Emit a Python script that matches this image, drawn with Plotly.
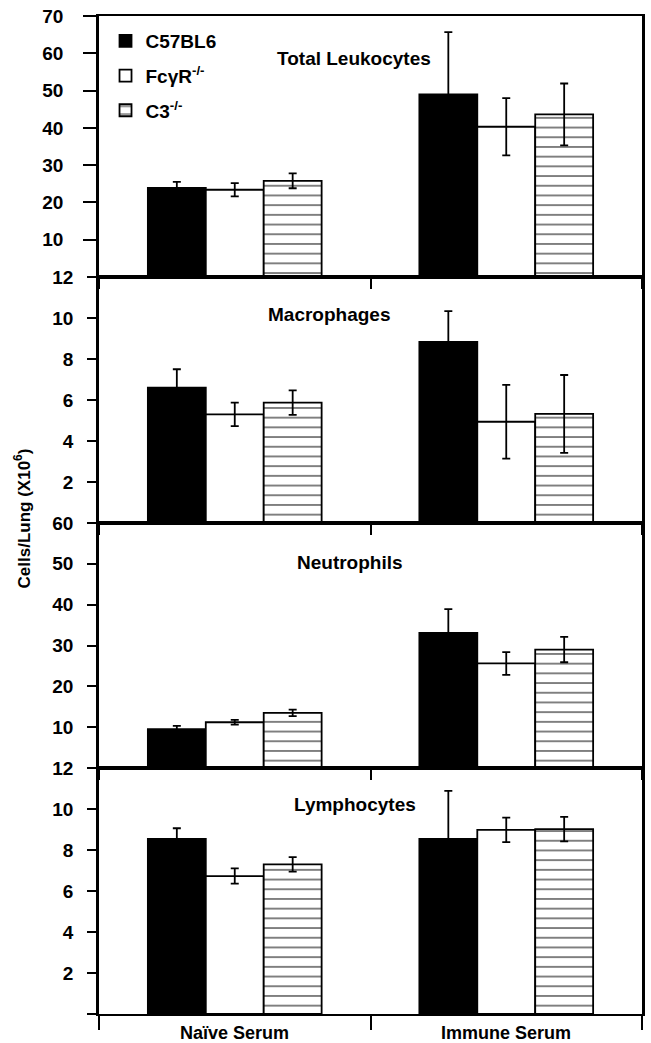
import plotly.graph_objects as go
from plotly.subplots import make_subplots

categories = ["Naïve Serum", "Immune Serum"]
strains = ["C57BL6", "FcγR<sup>-/-</sup>", "C3<sup>-/-</sup>"]
panel_titles = ["Total Leukocytes", "Macrophages", "Neutrophils", "Lymphocytes"]

# Total leukocytes
leuk_c57 = [23.9, 49.0]
leuk_c57_err = [1.6, 16.7]
leuk_fc = [23.4, 40.3]
leuk_fc_err = [1.8, 7.7]
leuk_c3 = [25.8, 43.6]
leuk_c3_err = [2.0, 8.3]

# Macrophages
mac_c57 = [6.6, 8.84]
mac_c57_err = [0.9, 1.5]
mac_fc = [5.3, 4.94]
mac_fc_err = [0.57, 1.8]
mac_c3 = [5.87, 5.32]
mac_c3_err = [0.6, 1.9]

# Neutrophils
neu_c57 = [9.5, 33.1]
neu_c57_err = [0.8, 5.8]
neu_fc = [11.2, 25.6]
neu_fc_err = [0.6, 2.8]
neu_c3 = [13.5, 29.0]
neu_c3_err = [0.8, 3.1]

# Lymphocytes
lym_c57 = [8.54, 8.54]
lym_c57_err = [0.52, 2.34]
lym_fc = [6.73, 8.98]
lym_fc_err = [0.37, 0.6]
lym_c3 = [7.3, 9.02]
lym_c3_err = [0.35, 0.6]

y_max = [70, 12, 60, 12]
y_step = [10, 2, 10, 2]

panel_data = [
    [(leuk_c57, leuk_c57_err), (leuk_fc, leuk_fc_err), (leuk_c3, leuk_c3_err)],
    [(mac_c57, mac_c57_err), (mac_fc, mac_fc_err), (mac_c3, mac_c3_err)],
    [(neu_c57, neu_c57_err), (neu_fc, neu_fc_err), (neu_c3, neu_c3_err)],
    [(lym_c57, lym_c57_err), (lym_fc, lym_fc_err), (lym_c3, lym_c3_err)],
]

FONT = "Liberation Sans, Arial, sans-serif"

fig = make_subplots(rows=4, cols=1, shared_xaxes=True, vertical_spacing=0,
                    row_heights=[261, 246, 245, 246])

styles = [
    dict(color="black", pattern=dict(shape="")),
    dict(color="white", pattern=dict(shape="")),
    dict(color="white", pattern=dict(shape="-", size=9.7, solidity=0.2,
                                     fgcolor="black", bgcolor="white", fillmode="overlay")),
]

for r, pdata in enumerate(panel_data, start=1):
    for s, (vals, errs) in enumerate(pdata):
        st = styles[s]
        fig.add_trace(go.Bar(
            x=categories, y=vals, name=strains[s],
            legendgroup=f"g{s}", showlegend=(r == 1),
            marker=dict(color=st["color"], pattern=st["pattern"],
                        line=dict(color="black", width=1.8)),
            error_y=dict(type="data", array=errs, visible=True,
                         color="black", thickness=1.8, width=4),
        ), row=r, col=1)

for r in range(1, 5):
    top = y_max[r - 1]
    step = y_step[r - 1]
    tv = list(range(step, top + 1, step))
    fig.update_yaxes(
        row=r, col=1, range=[0, top], tickvals=tv, ticktext=[str(v) for v in tv],
        ticks="outside", ticklen=13 if r == 1 else 9, tickwidth=2, tickcolor="black",
        ticklabelstandoff=16 if r == 1 else 10,
        minor=dict(tickvals=[0], ticks="outside", ticklen=9, tickwidth=2,
                   tickcolor="black", showgrid=False),
        showline=True, linewidth=2.5, linecolor="black", mirror=True,
        showgrid=False, zeroline=False,
        tickfont=dict(family=FONT, size=19, color="black", weight="bold"),
    )
    fig.update_xaxes(
        row=r, col=1, range=[-0.5, 1.5], type="category",
        tickson="boundaries", ticks="outside", ticklen=14 if r == 4 else 10,
        tickwidth=1.8, tickcolor="black",
        showline=True, linewidth=2, linecolor="black", mirror=True,
        showgrid=False, showticklabels=False,
    )

title_pos = [(0.469, 0.839), (0.423, 0.846), (0.463, 0.837), (0.471, 0.85)]
for r, (tx, ty) in enumerate(title_pos, start=1):
    fig.add_annotation(
        text=f"<b>{panel_titles[r-1]}</b>", showarrow=False,
        xref="x domain" if r == 1 else f"x{r} domain",
        yref="y domain" if r == 1 else f"y{r} domain",
        x=tx, y=ty, xanchor="center", yanchor="middle",
        font=dict(family=FONT, size=19, color="black"),
    )

for cat in categories:
    fig.add_annotation(
        text=f"<b>{cat}</b>", showarrow=False, xref="x4", yref="paper",
        x=cat, y=-0.019, xanchor="center", yanchor="middle",
        font=dict(family=FONT, size=18, color="black"),
    )

fig.add_annotation(
    text="<b>Cells/Lung (X10<sup>6</sup>)</b>", showarrow=False, textangle=-90,
    xref="paper", yref="paper", x=-0.141, y=0.497, xanchor="center", yanchor="middle",
    font=dict(family=FONT, size=17, color="black"),
)

fig.update_layout(
    width=651, height=1043,
    margin=dict(l=99, r=6, t=16, b=29),
    paper_bgcolor="white", plot_bgcolor="white",
    barmode="group", bargap=0.36, bargroupgap=0,
    showlegend=True,
    legend=dict(x=0.012, y=0.994, xanchor="left", yanchor="top",
                tracegroupgap=7, bgcolor="rgba(0,0,0,0)",
                font=dict(family=FONT, size=19, color="black", weight="bold")),
)

fig.write_html("out.html", config={"displayModeBar": False},
               post_script="document.body.style.margin='0px';document.body.style.padding='0px';")
